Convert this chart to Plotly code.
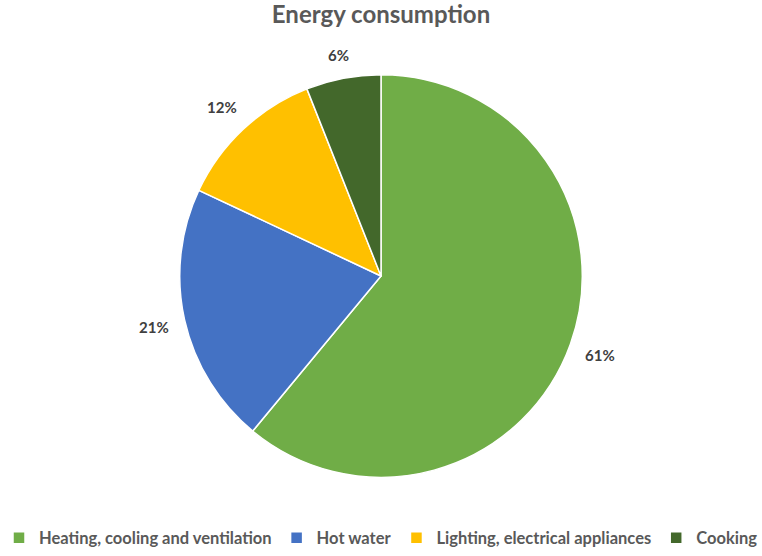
import math
import plotly.graph_objects as go

categories = ["Heating, cooling and ventilation", "Hot water", "Lighting, electrical appliances", "Cooking"]
values = [61, 21, 12, 6]
colors = ["#70AD47", "#4472C4", "#FFC000", "#43682B"]

W, H = 762, 556
top_m, bot_m = 75, 77
R = (H - top_m - bot_m) / 2
cx, cy = W / 2, bot_m + R  # centre in pixels from bottom

fig = go.Figure(go.Pie(
    labels=categories,
    values=values,
    sort=False,
    direction="clockwise",
    rotation=0,
    marker=dict(colors=colors, line=dict(color="white", width=1.5)),
    textinfo="none",
    hoverinfo="label+percent",
    domain=dict(x=[0, 1], y=[bot_m / H, 1 - top_m / H]),
))

# percentage labels outside the slices, positioned from the data
total = sum(values)
start = 0.0
gap, hw, hh = 12, 17, 9
for v in values:
    frac = v / total
    mid = (start + frac / 2) * 2 * math.pi
    s, c = math.sin(mid), math.cos(mid)
    dist = R + gap + abs(s) * hw + abs(c) * hh
    fig.add_annotation(
        x=(cx + dist * s) / W, y=(cy + dist * c) / H,
        xref="paper", yref="paper", xanchor="center", yanchor="middle",
        text=f"{round(frac * 100)}%", showarrow=False,
        font=dict(family="Lato", size=15, color="#404040", weight="bold"),
    )
    start += frac

fig.update_layout(
    width=W, height=H,
    margin=dict(l=0, r=0, t=0, b=0),
    paper_bgcolor="white",
    title=dict(text="Energy consumption", x=0.5, xanchor="center", y=1 - 15 / H, yanchor="middle",
               yref="container",
               font=dict(family="Lato", size=24, color="#595959", weight="bold")),
    legend=dict(orientation="h", x=0.5, xanchor="center", y=16 / H, yanchor="middle",
                font=dict(family="Lato", size=16.5, color="#595959", weight="bold"),
                itemwidth=30),
    showlegend=True,
)

fig.write_html("out.html")
